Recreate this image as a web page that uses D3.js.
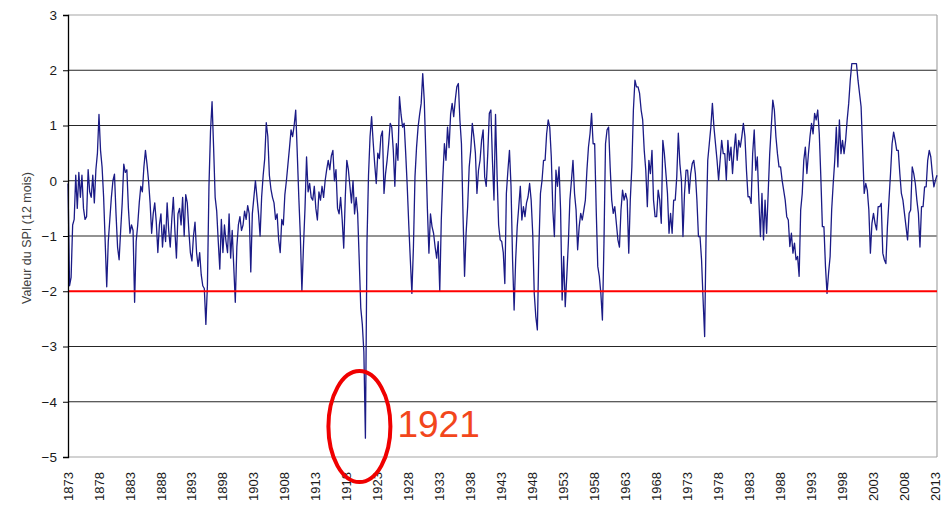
<!DOCTYPE html>
<html>
<head>
<meta charset="utf-8">
<script src="https://cdn.jsdelivr.net/npm/d3@7"></script>
<style>
body { margin: 0; background: #fff; }
svg { display: block; font-family: "Liberation Sans", Arial, sans-serif; }
</style>
</head>
<body>
<div id="chart"></div>
<script>
// SPI 12 mois, one value per quarter starting 1873.0
const startYear = 1873;
const spiValues = [
  -0.05, -1.9, -1.75, -0.8,   // 1873
  -0.7, 0.1, -0.5, 0.15,      // 1874
  -0.3, 0.1, -0.5, -0.7,
  -0.65, 0.2, -0.2, -0.3,
  0.1, -0.4, 0.2, 0.5,
  1.2, 0.55, 0.25, -0.3,      // 1878
  -1.1, -1.92, -1.1, -0.7,
  -0.3, 0.0, 0.12, -0.6,
  -1.2, -1.43, -0.9, -0.4,
  0.3, 0.15, 0.2, -0.5,
  -0.95, -0.8, -0.9, -2.2,    // 1883
  -1.1, -0.8, -0.4, -0.1,
  -0.2, 0.25, 0.55, 0.3,
  0.0, -0.4, -0.95, -0.6,
  -0.4, -0.75, -1.3, -0.8,
  -0.6, -1.2, -0.8, -1.1,     // 1888
  -0.4, -0.9, -1.2, -0.7,
  -0.3, -0.9, -1.4, -0.6,
  -0.5, -0.8, -0.3, -1.0,
  -0.25, -0.4, -0.9, -1.3,
  -1.45, -1.0, -0.75, -1.3,   // 1893
  -1.55, -1.3, -1.7, -1.9,
  -1.95, -2.6, -1.9, -0.1,
  0.9, 1.43, 0.6, -0.3,
  -0.55, -1.1, -1.6, -0.7,
  -1.3, -0.8, -1.1, -1.3,     // 1898
  -0.6, -1.4, -0.9, -1.55,
  -2.2, -1.2, -0.8, -0.65,
  -0.9, -0.8, -0.55, -0.7,
  -0.45, -0.6, -1.65, -0.6,
  -0.3, 0.0, -0.3, -0.6,      // 1903
  -1.0, -0.3, 0.1, 0.4,
  1.05, 0.8, 0.1, -0.15,
  -0.3, -0.4, -0.7, -0.6,
  -1.07, -1.3, -0.7, -0.8,
  -0.25, 0.0, 0.3, 0.6,       // 1908
  0.92, 0.8, 1.0, 1.28,
  0.5, -0.3, -1.0, -2.0,
  -1.2, -0.5, 0.43, -0.2,
  -0.05, -0.3, -0.35, -0.1,
  -0.5, -0.71, -0.2, -0.35,   // 1913
  -0.1, -0.3, 0.0, 0.2,
  0.37, 0.2, 0.45, 0.55,
  0.0, 0.2, -0.5, -0.6,
  -0.3, -0.7, -1.22, -0.3,
  0.37, 0.2, -0.1, -0.4,      // 1918
  0.0, -0.6, -0.3, -0.6,
  -1.43, -2.3, -2.6, -3.1,
  -4.66, -1.13, 0.1, 0.8,     // 1921
  1.16, 0.7, 0.3, -0.05,
  0.5, 0.4, 0.8, 0.9,         // 1923
  -0.23, 0.13, 0.37, 0.67,
  1.04, 0.97, 0.55, -0.1,
  0.67, 0.37, 1.52, 1.2,
  0.97, 1.04, 0.5, -0.1,
  -0.8, -1.43, -2.04, -1.2,   // 1928
  0.07, 0.6, 0.97, 1.2,
  1.4, 1.94, 1.45, 0.5,
  -0.5, -1.31, -0.6, -0.83,
  -0.95, -1.2, -1.4, -1.1,
  -2.0, -0.7, 0.07, 0.67,     // 1933
  0.37, 0.97, 0.6, 1.2,
  1.4, 1.16, 1.46, 1.7,
  1.76, 1.1, 0.67, -0.6,
  -1.73, -0.95, -0.47, 0.25,
  0.55, 1.04, 0.8, 0.5,       // 1938
  -0.23, 0.19, 0.37, 0.73,
  0.92, 0.07, -0.1, 0.5,
  1.22, 1.28, 0.37, -0.35,
  1.2, 0.1, -0.8, -1.07,
  -1.1, -1.3, -1.86, -0.23,   // 1943
  0.19, 0.55, -0.1, -1.43,
  -2.34, -1.43, -0.83, -0.47,
  -0.1, -0.71, -0.47, -0.65,
  -0.4, -0.29, -0.05, -0.35,
  -0.95, -2.04, -2.46, -2.7,  // 1948
  -1.2, -0.23, 0.0, 0.37,
  0.37, 0.85, 1.1, 0.97,
  0.43, -0.53, -1.01, 0.19,
  -0.1, 0.25, -0.53, -2.16,
  -1.37, -2.28, -1.73, -1.13, // 1953
  -0.35, 0.0, 0.37, -0.23,
  -0.53, -1.25, -0.83, -0.59,
  -0.71, -0.53, -0.35, 0.19,
  0.61, 0.85, 1.22, 0.67,
  0.67, -0.53, -1.55, -1.73,  // 1958
  -2.04, -2.52, -1.13, 0.67,
  0.92, 0.97, 0.25, -0.35,
  -0.59, -0.47, -0.77, -1.07,
  -1.2, -0.53, -0.17, -0.35,
  -0.23, -0.35, -1.31, -0.35, // 1963
  0.25, 1.28, 1.82, 1.7,
  1.7, 1.58, 1.28, 1.1,
  0.55, 0.19, -0.47, 0.37,
  0.13, 0.55, -0.35, -0.65,
  -0.65, -0.17, -0.35, -0.77, // 1968
  0.73, 0.49, 0.13, -0.23,
  -0.95, -0.59, -0.95, -0.35,
  -0.35, 0.07, 0.86, 0.31,
  0.01, -1.01, -0.23, 0.19,
  0.19, -0.23, 0.13, 0.31,    // 1973
  0.37, 0.13, -0.35, -1.01,
  -1.01, -1.43, -2.16, -2.82,
  -0.83, 0.37, 0.67, 0.97,
  1.4, 0.97, 0.67, 0.37,
  0.01, 0.37, 0.73, 0.49,     // 1978
  0.49, 0.01, 0.73, 0.37,
  0.61, 0.13, 0.55, 0.85,
  0.37, 0.73, 0.61, 0.8,
  1.04, 0.8, 0.19, -0.29,
  -0.29, -0.41, 0.49, 0.92,   // 1983
  0.19, 0.43, -0.35, -1.01,
  -0.23, -1.07, -0.35, -0.95,
  -0.23, 0.49, 0.97, 1.46,
  1.28, 0.8, 0.49, 0.25,
  0.25, 0.01, -0.17, -0.35,   // 1988
  -0.65, -0.71, -1.19, -0.95,
  -1.31, -1.13, -1.43, -1.37,
  -1.73, -0.53, -0.23, 0.37,
  0.61, 0.13, 0.49, 0.8,
  1.04, 0.85, 1.22, 1.1,      // 1993
  1.28, 0.85, 0.07, -0.83,
  -0.83, -1.55, -2.04, -1.67,
  -1.37, -0.53, -0.05, 0.37,
  0.97, 0.25, 1.1, 0.49,
  0.73, 0.49, 0.73, 1.1,      // 1998
  1.4, 1.82, 2.12, 2.12,
  2.12, 2.12, 1.82, 1.58,
  1.34, 0.55, -0.23, -0.05,
  -0.17, -0.53, -1.31, -0.77,
  -0.59, -0.77, -0.89, -0.47, // 2003
  -0.47, -0.41, -1.31, -1.43,
  -1.5, -0.83, -0.35, 0.13,
  0.67, 0.88, 0.73, 0.55,
  0.55, 0.13, -0.23, -0.35,
  -0.59, -0.83, -1.07, -0.59, // 2008
  -0.53, 0.25, 0.13, -0.05,
  -0.35, -0.59, -1.2, -0.47,
  -0.47, -0.11, -0.11, 0.37,
  0.55, 0.43, 0.13, -0.11,
  0.01, 0.1                   // 2013
];

const xTickYears = [1873, 1878, 1883, 1888, 1893, 1898, 1903, 1908, 1913, 1918,
  1923, 1928, 1933, 1938, 1943, 1948, 1953, 1958, 1963, 1968,
  1973, 1978, 1983, 1988, 1993, 1998, 2003, 2008, 2013];
const yTicks = [3, 2, 1, 0, -1, -2, -3, -4, -5];
const thresholdValue = -2;
const annotationYear = 1921;
const annotationLabel = "1921";
const yAxisTitle = "Valeur du SPI (12 mois)";

let width = 944;
let height = 507;
let plotLeft = 68, plotRight = 937, plotTop = 15, plotBottom = 457;

let svg = d3.select("#chart")
  .append("svg")
  .attr("width", width)
  .attr("height", height);

let x = d3.scaleLinear()
  .domain([startYear, 2013.25])
  .range([plotLeft, plotRight]);

let y = d3.scaleLinear()
  .domain([-5, 3])
  .range([plotBottom, plotTop]);

let data = spiValues.map((v, i) => ({t: startYear + i / 4, v: v}));

// gridlines (black), top/bottom edges grey
svg.append("g")
  .selectAll("line")
  .data(yTicks.filter(d => d !== thresholdValue))
  .enter()
  .append("line")
  .attr("x1", plotLeft)
  .attr("x2", plotRight)
  .attr("y1", d => y(d))
  .attr("y2", d => y(d))
  .attr("stroke", d => (d === 3 || d === -5) ? "#a6a6a6" : "#262626")
  .attr("stroke-width", d => (d === 3 || d === -5) ? 1.2 : 1.1);

// right frame
svg.append("line")
  .attr("x1", plotRight).attr("x2", plotRight)
  .attr("y1", plotTop).attr("y2", plotBottom)
  .attr("stroke", "#a6a6a6")
  .attr("stroke-width", 1.2);

// the series
let line = d3.line()
  .x(d => x(d.t))
  .y(d => y(d.v));

svg.append("path")
  .datum(data)
  .attr("fill", "none")
  .attr("stroke", "#1b1b86")
  .attr("stroke-width", 1.3)
  .attr("stroke-linejoin", "round")
  .attr("d", line);

// red threshold at -2
svg.append("line")
  .attr("x1", plotLeft)
  .attr("x2", plotRight)
  .attr("y1", y(thresholdValue))
  .attr("y2", y(thresholdValue))
  .attr("stroke", "#ff0000")
  .attr("stroke-width", 2.2);

// left axis
let yAxis = d3.axisLeft(y)
  .tickValues(yTicks)
  .tickSize(5)
  .tickFormat(d3.format("d"));

let gy = svg.append("g")
  .attr("transform", "translate(" + plotLeft + ",0)")
  .call(yAxis);
gy.select(".domain").attr("stroke", "#000").attr("stroke-width", 1.3);
gy.selectAll(".tick line").attr("stroke", "#000");
gy.selectAll(".tick text")
  .attr("x", -11)
  .style("font-size", "13.5px")
  .style("fill", "#1a1a1a")
  .style("font-family", "'Liberation Sans', Arial, sans-serif");

// x labels, rotated
svg.append("g")
  .selectAll("text")
  .data(xTickYears)
  .enter()
  .append("text")
  .attr("transform", d => "translate(" + x(d) + ",472) rotate(-90)")
  .attr("text-anchor", "end")
  .attr("dy", "0.35em")
  .style("font-size", "13px")
  .style("fill", "#1a1a1a")
  .text(d => d);

// y title
svg.append("text")
  .attr("transform", "translate(27," + ((plotTop + plotBottom) / 2 + 2) + ") rotate(-90)")
  .attr("text-anchor", "middle")
  .attr("dy", "0.35em")
  .style("font-size", "12.5px")
  .style("fill", "#404040")
  .text(yAxisTitle);

// 1921 annotation
svg.append("ellipse")
  .attr("cx", x(annotationYear) - 6)
  .attr("cy", y(-4.45))
  .attr("rx", 31)
  .attr("ry", 55.5)
  .attr("fill", "none")
  .attr("stroke", "#f00000")
  .attr("stroke-width", 4);

svg.append("text")
  .attr("x", x(annotationYear) + 32)
  .attr("y", 437)
  .style("font-size", "37px")
  .style("fill", "#f2461c")
  .text(annotationLabel);
</script>
</body>
</html>
